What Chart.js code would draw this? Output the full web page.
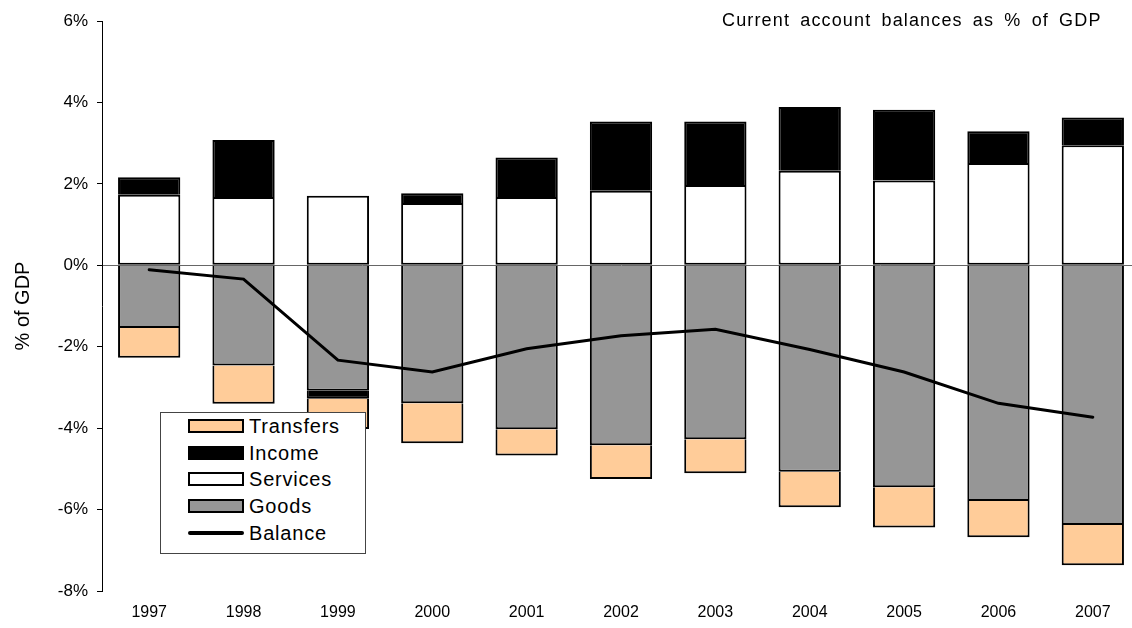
<!DOCTYPE html>
<html>
<head>
<meta charset="utf-8">
<title>Current account balances</title>
<script src="https://cdn.jsdelivr.net/npm/chart.js@4.4.1/dist/chart.umd.min.js"></script>
<style>
  html, body { margin: 0; padding: 0; background: #fff; overflow: hidden; }
  #wrap { position: relative; width: 1140px; height: 628px; font-family: "Liberation Sans", Arial, sans-serif; }
  #title { position: absolute; left: 722px; top: 10px; font-size: 18px; letter-spacing: 1.15px; word-spacing: 4px; color: #000; white-space: nowrap; }
  #legend { position: absolute; left: 160px; top: 412px; width: 206px; height: 142px; box-sizing: border-box;
            border: 1px solid #444; background: #fff; }
  .row { position: absolute; left: 0; height: 26px; width: 100%; }
  .sw { position: absolute; left: 27px; top: 6px; width: 56px; height: 14px; box-sizing: border-box; border: 2px solid #000; }
  .ln { position: absolute; left: 27px; top: 11px; width: 56px; height: 4px; background: #000; border-radius: 2px; }
  .lbl { position: absolute; left: 88px; top: 0; font-size: 20px; line-height: 26px; color: #000; letter-spacing: 0.8px; }
</style>
</head>
<body>
<div id="wrap">
  <canvas id="chart" width="1140" height="628"></canvas>
  <div id="title">Current account balances as % of GDP</div>
  <div id="legend"></div>
</div>
<script>
// years on the category axis
const years = ['1997', '1998', '1999', '2000', '2001', '2002', '2003', '2004', '2005', '2006', '2007'];

// components of the current account, % of GDP
const goods     = [-1.54, -2.46, -3.08, -3.39, -4.03, -4.42, -4.27, -5.07, -5.45, -5.79, -6.38];
const services  = [1.73, 1.68, 1.71, 1.53, 1.68, 1.83, 1.97, 2.32, 2.08, 2.51, 2.95];
const income    = [0.43, 1.40, -0.20, 0.24, 0.97, 1.70, 1.56, 1.57, 1.74, 0.78, 0.68];
const transfers = [-0.73, -0.94, -0.74, -0.98, -0.64, -0.83, -0.84, -0.87, -0.99, -0.89, -0.99];
const balance   = [-0.11, -0.34, -2.33, -2.62, -2.05, -1.73, -1.57, -2.07, -2.62, -3.39, -3.73];

const yTicks = [-8, -6, -4, -2, 0, 2, 4, 6];

const colors = {
  transfers: '#FFCC99',
  income: '#000000',
  services: '#FFFFFF',
  goods: '#969696'
};

// legend entries, top to bottom
const legendItems = [
  { label: 'Transfers', color: colors.transfers },
  { label: 'Income', color: colors.income },
  { label: 'Services', color: colors.services },
  { label: 'Goods', color: colors.goods },
  { label: 'Balance', line: true }
];

const legendTops = [0, 27, 53, 80, 107];

const buildLegend = () => {
  const box = document.getElementById('legend');
  let html = '';
  legendItems.forEach((item, i) => {
    const mark = item.line
      ? '<span class="ln"></span>'
      : `<span class="sw" style="background:${item.color}"></span>`;
    html += `<div class="row" style="top:${legendTops[i]}px">${mark}<span class="lbl">${item.label}</span></div>`;
  });
  box.innerHTML = html;
};

const barSet = (label, data, color, skipped) => ({
  type: 'bar',
  label: label,
  data: data,
  backgroundColor: color,
  borderColor: '#000',
  borderWidth: 2,
  borderSkipped: skipped,
  stack: 'ca',
  order: 1,
  barPercentage: 0.66,
  categoryPercentage: 1
});

const createChart = () => {
  const ctx = document.getElementById('chart').getContext('2d');

  new Chart(ctx, {
    data: {
      labels: years,
      datasets: [
        barSet('Goods', goods, colors.goods, 'start'),
        barSet('Services', services, colors.services, false),
        barSet('Income', income, colors.income, 'start'),
        barSet('Transfers', transfers, colors.transfers, 'start'),
        {
          type: 'line',
          label: 'Balance',
          data: balance,
          borderColor: '#000',
          borderWidth: 3,
          pointRadius: 0,
          tension: 0,
          stack: 'balance',
          order: 0,
          borderCapStyle: 'round'
        }
      ]
    },
    options: {
      responsive: false,
      devicePixelRatio: 1,
      animation: false,
      layout: { padding: { top: 21, left: 0, right: 0, bottom: 0 } },
      plugins: {
        legend: { display: false },
        tooltip: { enabled: false },
        title: { display: false }
      },
      scales: {
        x: {
          stacked: true,
          grid: { display: false, drawTicks: false },
          border: { display: false },
          ticks: {
            color: '#000',
            padding: 12,
            font: { family: '"Liberation Sans", Arial, sans-serif', size: 16 }
          },
          afterFit: (scale) => { scale.height = 37; }
        },
        y: {
          stacked: true,
          min: -8,
          max: 6,
          afterBuildTicks: (scale) => { scale.ticks = yTicks.map(v => ({ value: v })); },
          grid: {
            drawOnChartArea: true,
            color: (c) => (c.tick && c.tick.value === 0 ? '#666' : 'rgba(0,0,0,0)'),
            tickColor: '#000',
            tickLength: 5,
            lineWidth: 1
          },
          border: { display: true, color: '#000', width: 1 },
          ticks: {
            color: '#000',
            padding: 9,
            font: { family: '"Liberation Sans", Arial, sans-serif', size: 17 },
            callback: (v) => v + '%'
          },
          title: {
            display: true,
            text: '% of GDP',
            color: '#000',
            padding: { top: 11, bottom: 0 },
            font: { family: '"Liberation Sans", Arial, sans-serif', size: 20 }
          },
          afterFit: (scale) => { scale.width = 102; }
        }
      }
    }
  });
};

buildLegend();
createChart();
</script>
</body>
</html>
